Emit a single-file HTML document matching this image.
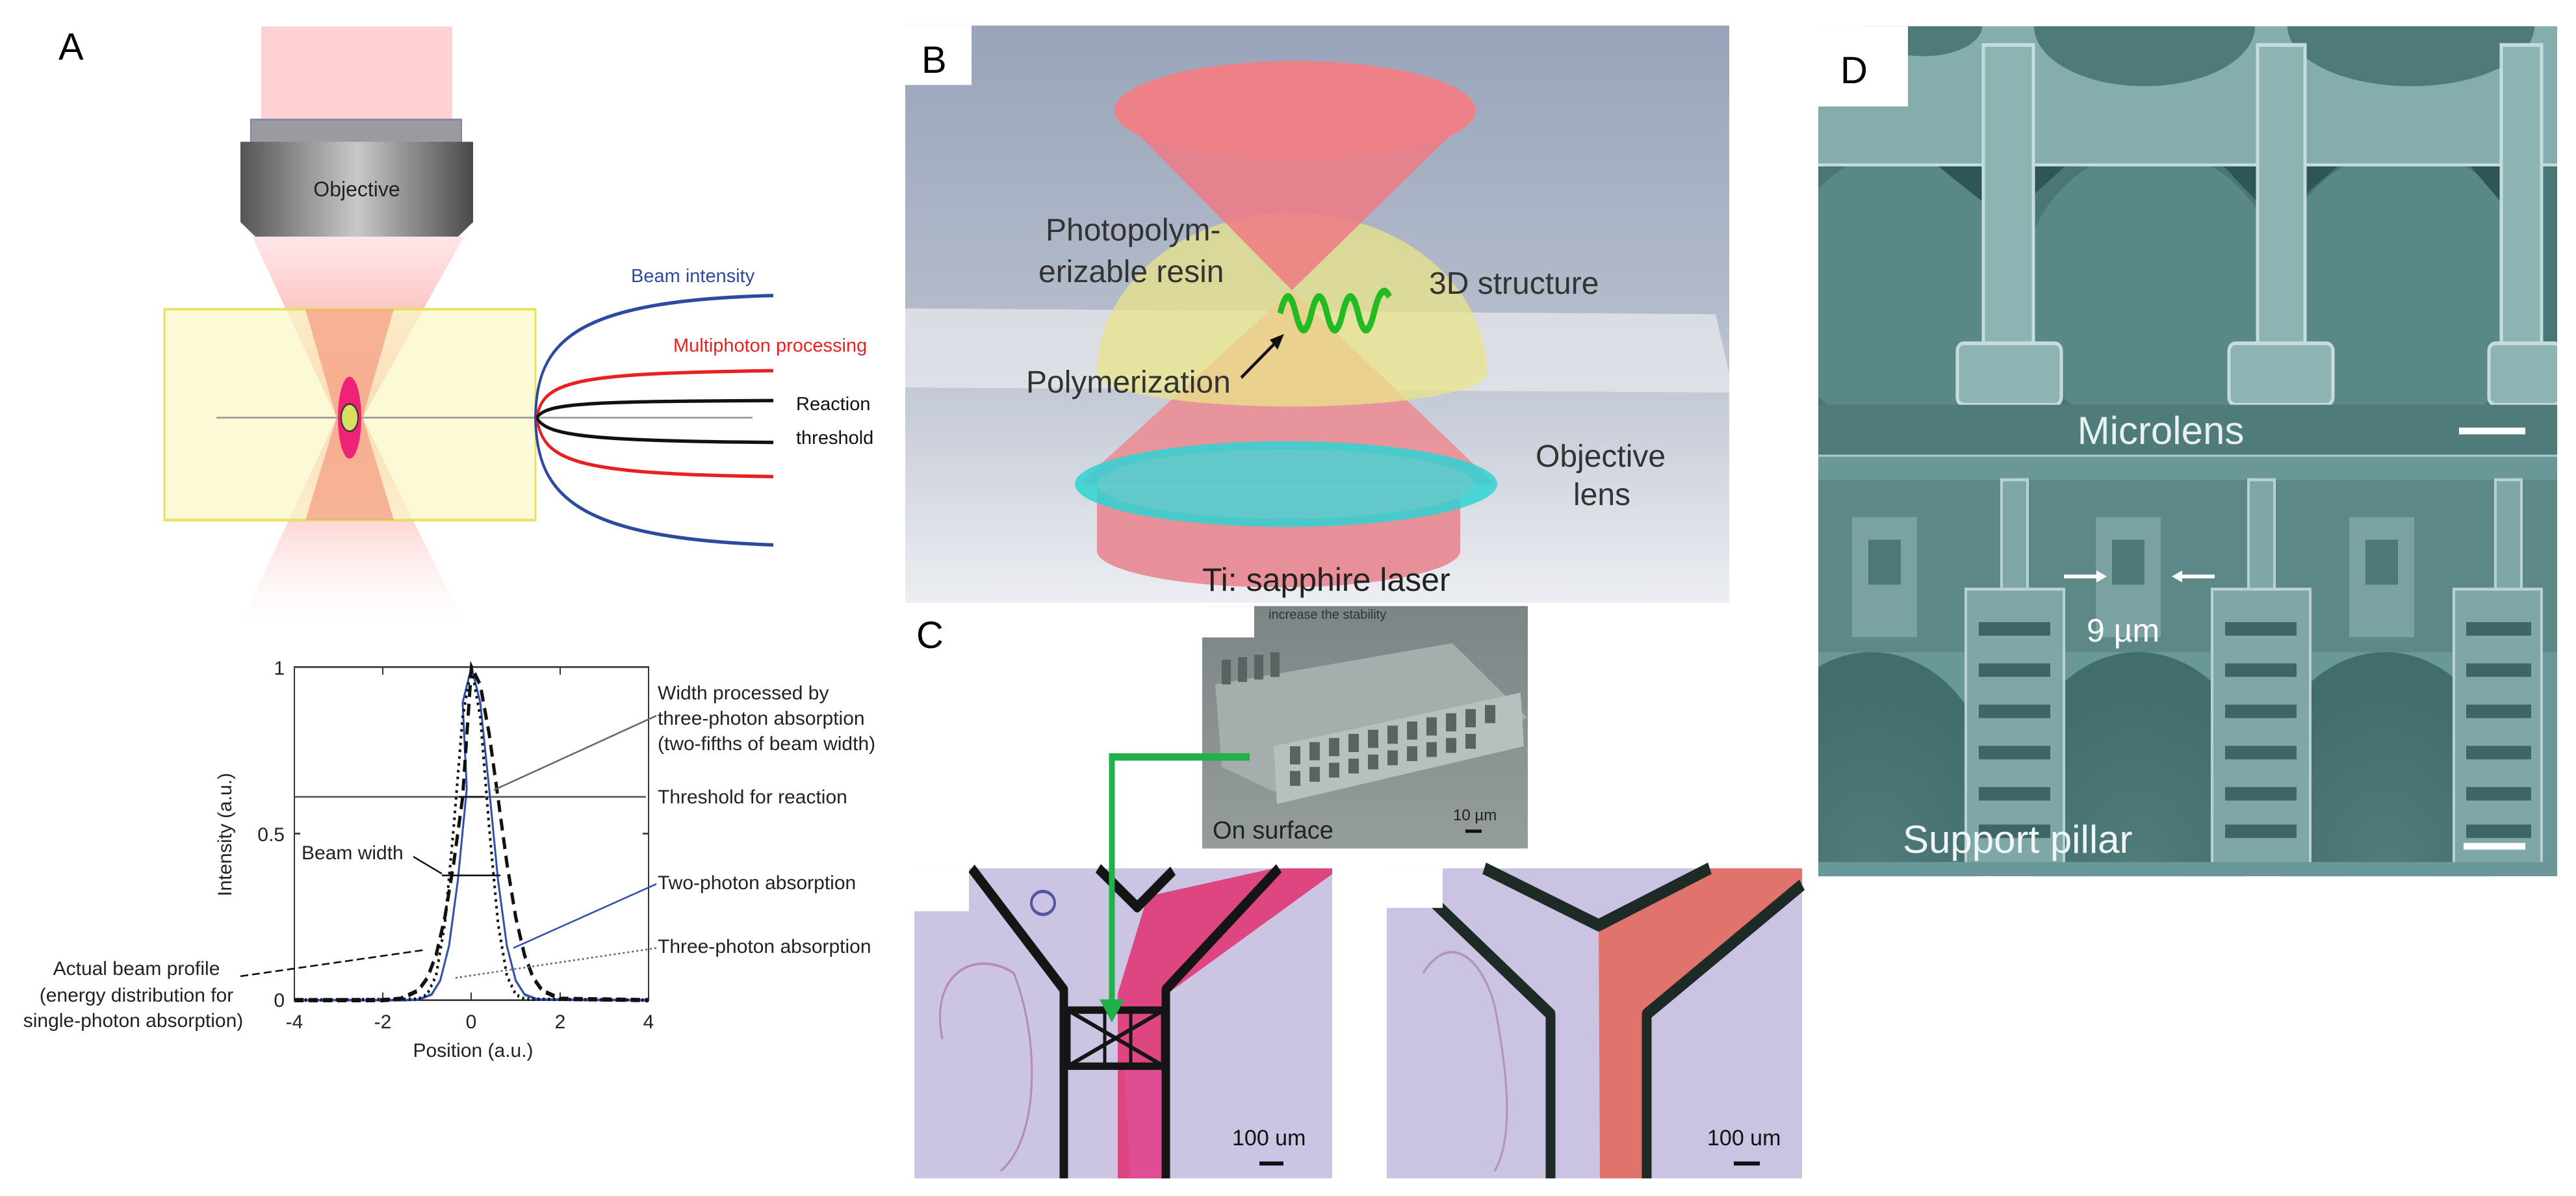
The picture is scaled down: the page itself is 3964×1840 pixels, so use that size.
<!DOCTYPE html>
<html><head><meta charset="utf-8"><style>
html,body{margin:0;padding:0;background:#fff;}
svg{display:block;}
text{font-family:"Liberation Sans",sans-serif;}
</style></head><body>
<svg width="3964" height="1840" viewBox="0 0 3964 1840" xmlns="http://www.w3.org/2000/svg">
<defs>
 <linearGradient id="objg" x1="0" x2="1" y1="0" y2="0">
  <stop offset="0" stop-color="#555"/><stop offset="0.5" stop-color="#c8c8c8"/><stop offset="1" stop-color="#4a4a4a"/>
 </linearGradient>
 <linearGradient id="cone1" x1="0" x2="0" y1="0" y2="1">
  <stop offset="0" stop-color="#ffd4d8" stop-opacity="0.6"/><stop offset="1" stop-color="#f48a7a"/>
 </linearGradient>
 <linearGradient id="cone2" x1="0" x2="0" y1="0" y2="1">
  <stop offset="0" stop-color="#f48a7a"/><stop offset="1" stop-color="#ffd8dc" stop-opacity="0"/>
 </linearGradient>
 <linearGradient id="bbg" x1="0" x2="0" y1="0" y2="1">
  <stop offset="0" stop-color="#98a4ba"/><stop offset="0.5" stop-color="#b4bccb"/><stop offset="1" stop-color="#eceef2"/>
 </linearGradient>
 <linearGradient id="semC" x1="0" x2="0" y1="0" y2="1">
  <stop offset="0" stop-color="#7c8585"/><stop offset="1" stop-color="#959c9c"/>
 </linearGradient>
 <radialGradient id="dome" cx="0.5" cy="0.7" r="0.6">
  <stop offset="0" stop-color="#4f7b7b"/><stop offset="1" stop-color="#426d6d"/>
 </radialGradient>
 <clipPath id="dtop"><rect x="2798" y="35" width="1137" height="573"/></clipPath>
 <clipPath id="dbot"><rect x="2798" y="608" width="1137" height="561"/></clipPath>
</defs>

<!-- ================= PANEL A shapes ================= -->
<g transform="scale(1,1.314)">
<rect x="402" y="31" width="294" height="110" fill="#ffd0d4"/>
<polygon points="388,277 714,277 558,489 518,489" fill="url(#cone1)"/>
<polygon points="518,489 558,489 714,730 370,730" fill="url(#cone2)"/>
<rect x="386" y="140" width="324" height="28" fill="#9a9aa0" stroke="#8080a0" stroke-width="2"/>
<polygon points="370,166 728,166 728,260 705,277 393,277 370,260" fill="url(#objg)"/>
<rect x="253" y="362" width="571" height="247" fill="#fbf7c8" fill-opacity="0.75" stroke="#e8e060" stroke-width="3"/>
<polygon points="470,362 606,362 558,489 518,489" fill="#f59a80" opacity="0.7"/>
<polygon points="518,489 558,489 606,609 470,609" fill="#f59a80" opacity="0.7"/>
<line x1="333" y1="489" x2="1158" y2="489" stroke="#999" stroke-width="2"/>
<ellipse cx="538" cy="489" rx="18" ry="48" fill="#ee2277"/>
<ellipse cx="538" cy="489" rx="13" ry="16" fill="#d8e060" stroke="#333" stroke-width="2"/>
<g fill="none" stroke-width="4">
 <path d="M824,489 C826,400 880,352 1190,346" stroke="#2d4aa0"/>
 <path d="M824,489 C826,578 880,630 1190,638" stroke="#2d4aa0"/>
 <path d="M826,489 C836,446 880,437 1190,434" stroke="#e82020"/>
 <path d="M826,489 C836,540 880,555 1190,558" stroke="#e82020"/>
 <path d="M826,489 C840,472 900,470 1190,469" stroke="#111"/>
 <path d="M826,489 C840,510 900,516 1190,518" stroke="#111"/>
</g>
<rect x="453" y="781" width="545" height="390" fill="#fff" stroke="#333" stroke-width="2"/>
<g stroke="#333" stroke-width="2">
 <line x1="589" y1="781" x2="589" y2="790"/><line x1="725" y1="781" x2="725" y2="790"/><line x1="862" y1="781" x2="862" y2="790"/>
 <line x1="589" y1="1171" x2="589" y2="1162"/><line x1="725" y1="1171" x2="725" y2="1162"/><line x1="862" y1="1171" x2="862" y2="1162"/>
 <line x1="453" y1="976" x2="462" y2="976"/><line x1="998" y1="976" x2="989" y2="976"/>
</g>
<line x1="453" y1="933" x2="994" y2="933" stroke="#555" stroke-width="2"/>
<polyline fill="none" stroke="#3050b0" stroke-width="3" points="453,1171 623,1171 643.8,1170.3 664.2,1164.4 677.4,1148 691,1107.4 704.6,1030.6 718.3,923.3 711.9,822.7 725.5,781 739.1,822.7 752.7,923.3 766.4,1030.6 780,1107.4 793.6,1148 807.2,1164.4 827.6,1170.3 998,1171"/>
<polyline fill="none" stroke="#111" stroke-width="5" stroke-dasharray="14,8" points="453,1171 589,1171 616.5,1169.4 643.7,1159.7 657.4,1145.3 671,1118.4 684.6,1073.9 698.2,1010.7 711.8,934.3 725.5,781 739.1,802 752.7,859 766.4,934.3 780,1010.7 793.6,1073.9 807.2,1118.4 820.8,1145.3 834.5,1159.7 861.7,1169.4 998,1171"/>
<polyline fill="none" stroke="#111" stroke-width="4" stroke-dasharray="3,5" points="453,1171 643.8,1169.8 657.4,1164.4 671,1142.5 684.6,1081.3 698.2,968.2 711.9,839.9 725.5,781 739.1,839.9 752.7,968.2 766.4,1081.3 780,1142.5 793.6,1164.4 807.2,1169.8 998,1171"/>
<g stroke-width="2" fill="none">
 <line x1="1010" y1="838" x2="760" y2="925" stroke="#666"/>
 <line x1="706" y1="933" x2="746" y2="933" stroke="#111"/>
 <line x1="636" y1="1003" x2="680" y2="1023" stroke="#111"/>
 <line x1="680" y1="1025" x2="770" y2="1025" stroke="#111"/>
 <line x1="1010" y1="1035" x2="790" y2="1110" stroke="#3050b0"/>
 <line x1="1010" y1="1110" x2="700" y2="1145" stroke="#666" stroke-dasharray="3,4"/>
 <line x1="370" y1="1143" x2="655" y2="1112" stroke="#111" stroke-dasharray="12,6"/>
</g>
</g>
<!-- Panel A text -->
<text x="90" y="92" font-size="58">A</text>
<text x="549" y="302" font-size="32" text-anchor="middle" fill="#222">Objective</text>
<g font-size="29">
<text x="971" y="434" fill="#2d4aa0">Beam intensity</text>
<text x="1036" y="541" fill="#e82020">Multiphoton processing</text>
<text x="1225" y="631" fill="#111">Reaction</text>
<text x="1225" y="683" fill="#111">threshold</text>
</g>
<g font-size="30" fill="#222">
<text x="438" y="1038" text-anchor="end">1</text>
<text x="438" y="1294" text-anchor="end">0.5</text>
<text x="438" y="1549" text-anchor="end">0</text>
<g text-anchor="middle">
 <text x="453" y="1582">-4</text><text x="589" y="1582">-2</text><text x="725" y="1582">0</text><text x="862" y="1582">2</text><text x="998" y="1582">4</text>
 <text x="728" y="1626">Position (a.u.)</text>
 <text x="210" y="1500">Actual beam profile</text>
 <text x="210" y="1541">(energy distribution for</text>
 <text x="205" y="1580">single-photon absorption)</text>
</g>
<text transform="translate(356,1284) rotate(-90)" text-anchor="middle">Intensity (a.u.)</text>
<text x="1012" y="1076">Width processed by</text>
<text x="1012" y="1115">three-photon absorption</text>
<text x="1012" y="1154">(two-fifths of beam width)</text>
<text x="1012" y="1236">Threshold for reaction</text>
<text x="1012" y="1368">Two-photon absorption</text>
<text x="1012" y="1466">Three-photon absorption</text>
<text x="464" y="1322">Beam width</text>
</g>

<!-- ================= PANEL B + C shapes ================= -->
<g transform="scale(1,1.2686)">
<rect x="1393" y="31" width="1268" height="700" fill="url(#bbg)"/>
<polygon points="1393,374 2640,381 2661,453 2661,476 1393,470" fill="#e4e6ea" opacity="0.8"/>
<path d="M1688,592 L1688,670 A280,45 0 0 0 2247,670 L2247,592 Z" fill="#e8909a"/>
<polygon points="1660,587 1988,352 2300,587" fill="#ec8a92" opacity="0.85"/>
<path d="M1688,453 A300,195 0 0 1 2288,453 A300,40 0 0 1 1688,453 Z" fill="#eae48a" opacity="0.75"/>
<polygon points="1715,134 2271,134 1988,352" fill="#ee7a84" opacity="0.85"/>
<ellipse cx="1993" cy="134" rx="278" ry="60" fill="#ee8088"/>
<ellipse cx="1979" cy="587" rx="325" ry="52" fill="#2ed4d4" opacity="0.85"/>
<ellipse cx="1979" cy="587" rx="290" ry="42" fill="#6cc8c8" opacity="0.7"/>
<path d="M1970,380 q12,-40 24,0 t24,0 t24,0 t24,0 t24,0 t24,0 t24,-20" fill="none" stroke="#22bb22" stroke-width="9"/>
<line x1="1910" y1="458" x2="1966" y2="413" stroke="#111" stroke-width="4"/>
<polygon points="1976,405 1954,412 1966,424" fill="#111"/>
<rect x="1393" y="31" width="102" height="72" fill="#fff"/>

<!-- C SEM -->
<rect x="1850" y="735" width="501" height="294" fill="url(#semC)"/>
<rect x="1850" y="735" width="80" height="38" fill="#fff"/>
<polygon points="1870,830 2235,780 2350,870 2260,905 1960,960 1880,930" fill="#a5adad"/>
<polygon points="1960,905 2340,840 2345,905 1965,975" fill="#b8bfbf"/>
<g fill="#5a6262">
 <rect x="1985" y="905" width="16" height="22"/><rect x="2015" y="900" width="16" height="22"/><rect x="2045" y="895" width="16" height="22"/><rect x="2075" y="890" width="16" height="22"/><rect x="2105" y="885" width="16" height="22"/><rect x="2135" y="880" width="16" height="22"/><rect x="2165" y="875" width="16" height="22"/><rect x="2195" y="870" width="16" height="22"/><rect x="2225" y="865" width="16" height="22"/><rect x="2255" y="860" width="16" height="22"/><rect x="2285" y="855" width="16" height="22"/>
 <rect x="1985" y="935" width="16" height="18"/><rect x="2015" y="930" width="16" height="18"/><rect x="2045" y="925" width="16" height="18"/><rect x="2075" y="920" width="16" height="18"/><rect x="2105" y="915" width="16" height="18"/><rect x="2135" y="910" width="16" height="18"/><rect x="2165" y="905" width="16" height="18"/><rect x="2195" y="900" width="16" height="18"/><rect x="2225" y="895" width="16" height="18"/><rect x="2255" y="890" width="16" height="18"/>
 <rect x="1880" y="800" width="14" height="30"/><rect x="1905" y="797" width="14" height="30"/><rect x="1930" y="794" width="14" height="30"/><rect x="1955" y="791" width="14" height="30"/>
</g>
<line x1="2255" y1="1008" x2="2280" y2="1008" stroke="#111" stroke-width="4"/>

<!-- left micro image -->
<rect x="1407" y="1053" width="643" height="376" fill="#cbc4e2"/>
<path d="M1766,1087 L1960,1053 L2050,1053 L2050,1060 L1800,1203 L1800,1429 L1720,1429 L1720,1205 Z" fill="#e03070" opacity="0.85"/>
<path d="M1730,1295 L1790,1295 L1790,1429 L1740,1429 Z" fill="#e0509a" opacity="0.7"/>
<g fill="none" stroke="#151515" stroke-width="13" stroke-linejoin="round">
 <polyline points="1495,1053 1637,1200 1637,1429"/>
 <polyline points="1968,1053 1794,1200 1794,1429"/>
 <polyline points="1690,1053 1750,1100 1805,1056"/>
</g>
<rect x="1643" y="1225" width="148" height="68" fill="none" stroke="#151515" stroke-width="9"/>
<path d="M1643,1225 L1791,1293 M1643,1293 L1791,1225 M1700,1225 L1700,1293 M1740,1225 L1740,1293" stroke="#151515" stroke-width="5"/>
<path d="M1450,1260 C1430,1180 1500,1150 1560,1180 C1600,1260 1600,1380 1540,1420" fill="none" stroke="#b58ab8" stroke-width="3"/>
<ellipse cx="1605" cy="1095" rx="18" ry="14" fill="none" stroke="#5555a0" stroke-width="4"/>
<rect x="1407" y="1053" width="84" height="52" fill="#fff"/>
<line x1="1938" y1="1411" x2="1975" y2="1411" stroke="#111" stroke-width="5"/>

<!-- right micro image -->
<rect x="2134" y="1053" width="639" height="376" fill="#cac3e2"/>
<path d="M2460,1124 L2631,1053 L2773,1053 L2773,1073 L2534,1230 L2534,1429 L2462,1429 Z" fill="#e36a60" opacity="0.9"/>
<g fill="none" stroke="#1d2a26" stroke-width="15" stroke-linejoin="round">
 <polyline points="2201,1090 2386,1230 2386,1429"/>
 <polyline points="2284,1053 2460,1122 2631,1053"/>
 <polyline points="2773,1073 2534,1230 2534,1429"/>
</g>
<path d="M2190,1180 C2230,1130 2280,1160 2300,1220 C2320,1300 2330,1380 2300,1420" fill="none" stroke="#b590c0" stroke-width="3"/>
<rect x="2134" y="1053" width="86" height="48" fill="#fff"/>
<line x1="2668" y1="1411" x2="2708" y2="1411" stroke="#111" stroke-width="5"/>

<polyline points="1923,918 1711,918 1711,1222" fill="none" stroke="#22b04a" stroke-width="9"/>
<polygon points="1692,1212 1730,1212 1711,1240" fill="#22b04a"/>
</g>

<!-- Panel B/C text -->
<text x="1418" y="112" font-size="58">B</text>
<g font-size="48" fill="#333">
 <text x="1609" y="370">Photopolym-</text>
 <text x="1598" y="434">erizable resin</text>
 <text x="2199" y="452">3D structure</text>
 <text x="1579" y="604">Polymerization</text>
 <text x="2363" y="718">Objective</text>
 <text x="2421" y="777">lens</text>
 <text x="1850" y="909" font-size="50" fill="#222">Ti: sapphire laser</text>
</g>
<text x="1410" y="997" font-size="58">C</text>
<text x="1952" y="952" font-size="20" fill="#333">increase the stability</text>
<text x="1866" y="1290" font-size="38" fill="#222">On surface</text>
<text x="2236" y="1262" font-size="24" fill="#222">10 µm</text>
<text x="1896" y="1762" font-size="34" fill="#111">100 um</text>
<text x="2627" y="1762" font-size="34" fill="#111">100 um</text>

<!-- ================= PANEL D shapes ================= -->
<g transform="scale(1,1.1532)">
<g clip-path="url(#dtop)">
<rect x="2798" y="35" width="1137" height="573" fill="#4a7676"/>
<ellipse cx="2935" cy="390" rx="200" ry="190" fill="#5a8787"/>
<ellipse cx="3310" cy="390" rx="200" ry="190" fill="#5a8787"/>
<ellipse cx="3700" cy="390" rx="200" ry="190" fill="#5a8787"/>
<rect x="2798" y="35" width="1137" height="185" fill="#86adad"/>
<path d="M2798,220 L2980,220 L3052,270 L3052,220 Z M3129,220 L3180,220 L3129,260 Z M3420,220 L3474,270 L3474,220 Z M3547,220 L3600,220 L3547,260 Z M3800,220 L3849,270 L3849,220 Z" fill="#2f5656"/>
<ellipse cx="3300" cy="35" rx="170" ry="80" fill="#4e7a7a"/>
<ellipse cx="3710" cy="35" rx="190" ry="80" fill="#4e7a7a"/>
<ellipse cx="2960" cy="35" rx="90" ry="40" fill="#4e7a7a"/>
<line x1="2798" y1="220" x2="3935" y2="220" stroke="#c4dcdc" stroke-width="4"/>
<g fill="#8eb3b3" stroke="#c4dcdc" stroke-width="5">
 <rect x="3052" y="60" width="77" height="400"/>
 <rect x="3474" y="60" width="73" height="400"/>
 <rect x="3849" y="60" width="62" height="410"/>
 <rect x="3012" y="458" width="160" height="82" rx="10"/>
 <rect x="3430" y="458" width="160" height="82" rx="10"/>
 <rect x="3830" y="458" width="110" height="82" rx="10"/>
</g>
<rect x="2798" y="540" width="1137" height="68" fill="#4f7b7b"/>
</g>
<line x1="3784" y1="575" x2="3886" y2="575" stroke="#fff" stroke-width="9"/>
<g clip-path="url(#dbot)">
<rect x="2798" y="608" width="1137" height="561" fill="#6a9898"/>
<rect x="2798" y="640" width="1137" height="230" fill="#5c8888"/>
<g fill="#7aa2a2">
 <rect x="2850" y="690" width="100" height="160"/><rect x="3225" y="690" width="100" height="160"/><rect x="3615" y="690" width="100" height="160"/>
</g>
<g fill="#4d7878">
 <rect x="2875" y="720" width="50" height="60"/><rect x="3250" y="720" width="50" height="60"/><rect x="3640" y="720" width="50" height="60"/>
</g>
<ellipse cx="2880" cy="1070" rx="190" ry="200" fill="url(#dome)"/>
<ellipse cx="3290" cy="1070" rx="190" ry="200" fill="url(#dome)"/>
<ellipse cx="3670" cy="1070" rx="190" ry="200" fill="url(#dome)"/>
<g fill="#7fa7a7" stroke="#b8d2d2" stroke-width="4">
 <rect x="3080" y="640" width="40" height="150"/>
 <rect x="3460" y="640" width="40" height="150"/>
 <rect x="3840" y="640" width="40" height="150"/>
 <rect x="3025" y="786" width="151" height="380"/>
 <rect x="3404" y="786" width="151" height="380"/>
 <rect x="3776" y="786" width="135" height="380"/>
</g>
<g fill="#3e6666">
 <rect x="3045" y="830" width="110" height="18"/><rect x="3045" y="885" width="110" height="18"/><rect x="3045" y="940" width="110" height="18"/><rect x="3045" y="995" width="110" height="18"/><rect x="3045" y="1050" width="110" height="18"/><rect x="3045" y="1100" width="110" height="18"/>
 <rect x="3424" y="830" width="110" height="18"/><rect x="3424" y="885" width="110" height="18"/><rect x="3424" y="940" width="110" height="18"/><rect x="3424" y="995" width="110" height="18"/><rect x="3424" y="1050" width="110" height="18"/><rect x="3424" y="1100" width="110" height="18"/>
 <rect x="3795" y="830" width="100" height="18"/><rect x="3795" y="885" width="100" height="18"/><rect x="3795" y="940" width="100" height="18"/><rect x="3795" y="995" width="100" height="18"/><rect x="3795" y="1050" width="100" height="18"/><rect x="3795" y="1100" width="100" height="18"/>
</g>
<rect x="2798" y="1150" width="1137" height="19" fill="#6a9898"/>
</g>
<line x1="2798" y1="608" x2="3935" y2="608" stroke="#a8c6c6" stroke-width="3"/>
<g stroke="#fff" stroke-width="5">
 <line x1="3176" y1="769" x2="3230" y2="769"/><line x1="3354" y1="769" x2="3408" y2="769"/>
</g>
<polygon points="3242,769 3226,761 3226,777" fill="#fff"/>
<polygon points="3342,769 3358,761 3358,777" fill="#fff"/>
<line x1="3791" y1="1129" x2="3886" y2="1129" stroke="#fff" stroke-width="9"/>
<rect x="2798" y="35" width="138" height="107" fill="#fff"/>
</g>
<!-- Panel D text -->
<text x="2832" y="128" font-size="58">D</text>
<text x="3325" y="683" font-size="60" fill="#e8f0f0" text-anchor="middle">Microlens</text>
<text x="3211" y="987" font-size="50" fill="#fff">9 µm</text>
<text x="2928" y="1312" font-size="60" fill="#f0f5f5">Support pillar</text>
</svg>
</body></html>
